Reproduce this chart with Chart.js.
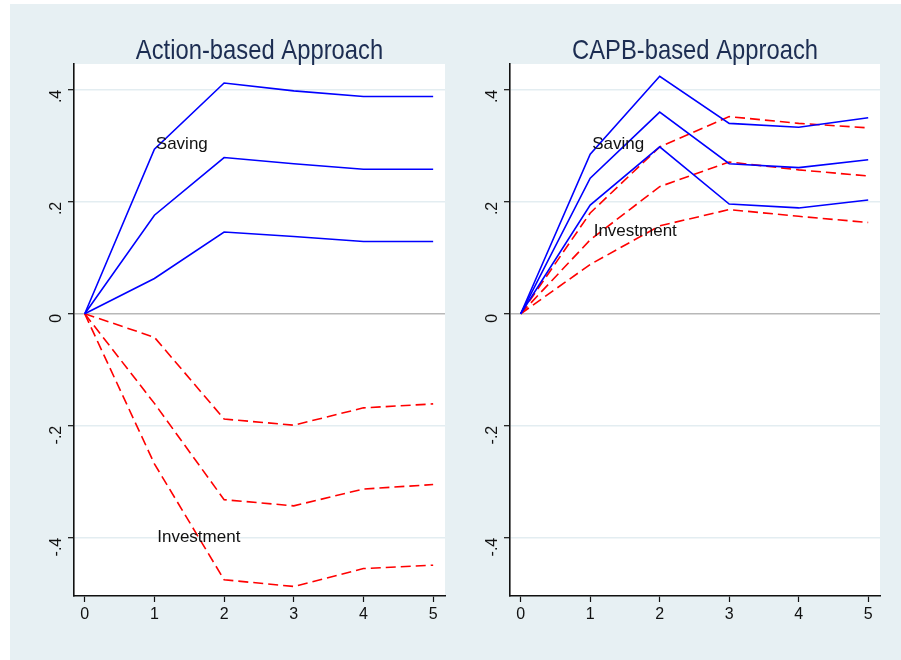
<!DOCTYPE html>
<html>
<head>
<meta charset="utf-8">
<script src="https://cdn.jsdelivr.net/npm/chart.js@4.4.1/dist/chart.umd.min.js"></script>
<style>
  html, body { margin: 0; padding: 0; background: #ffffff; }
  #frame { position: absolute; left: 10px; top: 4px; width: 891px; height: 656px; background: #e7f0f3; }
  #left { position: absolute; left: 0px; top: 0px; }
  #right { position: absolute; left: 450px; top: 0px; }
</style>
</head>
<body>
<div id="frame">
  <canvas id="left" width="450" height="656"></canvas>
  <canvas id="right" width="441" height="656"></canvas>
</div>
<script>
// Horizonte (periodos)
var periods = [0, 1, 2, 3, 4, 5];
var yTicks = [-0.4, -0.2, 0, 0.2, 0.4];
var yTickLabels = ['-.4', '-.2', '0', '.2', '.4'];

// Action-based Approach
var actSavingUpper = [0, 0.294, 0.412, 0.398, 0.388, 0.388];
var actSavingMid   = [0, 0.176, 0.279, 0.268, 0.258, 0.258];
var actSavingLower = [0, 0.063, 0.146, 0.138, 0.129, 0.129];
var actInvUpper = [0, -0.042, -0.188, -0.199, -0.168, -0.161];
var actInvMid   = [0, -0.160, -0.332, -0.343, -0.313, -0.305];
var actInvLower = [0, -0.268, -0.475, -0.487, -0.455, -0.449];

// CAPB-based Approach
var capbSavingUpper = [0, 0.285, 0.424, 0.340, 0.333, 0.350];
var capbSavingMid   = [0, 0.242, 0.360, 0.268, 0.261, 0.275];
var capbSavingLower = [0, 0.194, 0.298, 0.196, 0.189, 0.203];
var capbInvUpper = [0, 0.180, 0.298, 0.352, 0.340, 0.332];
var capbInvMid   = [0, 0.132, 0.227, 0.271, 0.257, 0.246];
var capbInvLower = [0, 0.088, 0.157, 0.186, 0.174, 0.163];

// Etiquetas de texto dentro del grafico
var actLabels = [{ text: 'Saving', x: 1.02, y: 0.302 }, { text: 'Investment', x: 1.04, y: -0.40 }];
var capbLabels = [{ text: 'Saving', x: 1.03, y: 0.302 }, { text: 'Investment', x: 1.05, y: 0.148 }];

var FONT = '"Liberation Sans", Arial, sans-serif';

function pts(arr) {
    return periods.map(function (p, i) { return { x: p, y: arr[i] }; });
}

function saving(arr) {
    return { data: pts(arr), borderColor: '#0000ff', borderWidth: 1.6, pointRadius: 0, tension: 0, fill: false };
}

function invest(arr) {
    return { data: pts(arr), borderColor: '#ff0000', borderWidth: 1.6, borderDash: [10, 5], pointRadius: 0, tension: 0, fill: false };
}

// fondo blanco, titulo (algo estrecho, como en Stata) y textos
var panelPlugin = {
    id: 'panel',
    beforeDraw: function (chart) {
        var a = chart.chartArea, c = chart.ctx;
        c.save();
        c.fillStyle = '#ffffff';
        c.fillRect(a.left, a.top, a.right - a.left, a.bottom - a.top);
        c.restore();
    },
    afterDraw: function (chart) {
        var opts = chart.options.plugins.panel;
        var a = chart.chartArea, c = chart.ctx;
        c.save();
        c.font = '28px ' + FONT;
        c.fillStyle = '#1c2d52';
        c.textAlign = 'center';
        c.textBaseline = 'alphabetic';
        c.translate((a.left + a.right) / 2, 55);
        c.scale(0.85, 1);
        c.fillText(opts.title, 0, 0);
        c.restore();
    },
    afterDatasetsDraw: function (chart) {
        var labels = chart.options.plugins.panel.labels || [];
        var c = chart.ctx, xs = chart.scales.x, ys = chart.scales.y;
        c.save();
        c.font = '17px ' + FONT;
        c.fillStyle = '#111111';
        c.textBaseline = 'middle';
        c.textAlign = 'left';
        labels.forEach(function (l) {
            c.fillText(l.text, xs.getPixelForValue(l.x), ys.getPixelForValue(l.y));
        });
        c.restore();
    }
};

function makeChart(id, title, datasets, labels, yWidth, rightPad) {
    return new Chart(document.getElementById(id), {
        type: 'line',
        data: { datasets: datasets },
        plugins: [panelPlugin],
        options: {
            responsive: false,
            animation: false,
            layout: { padding: { top: 60, right: rightPad, bottom: 0, left: 0 } },
            plugins: {
                legend: { display: false },
                tooltip: { enabled: false },
                title: { display: false },
                panel: { title: title, labels: labels }
            },
            scales: {
                x: {
                    type: 'linear',
                    min: -0.154,
                    max: 5.17,
                    afterBuildTicks: function (s) { s.ticks = periods.map(function (v) { return { value: v }; }); },
                    afterFit: function (s) { s.height = 64; },
                    grid: { drawOnChartArea: false, tickLength: 6, tickColor: '#111', tickWidth: 1.2 },
                    border: { color: '#111', width: 1.6 },
                    ticks: { color: '#111', font: { family: FONT, size: 16 }, padding: 3, maxRotation: 0 }
                },
                y: {
                    type: 'linear',
                    min: -0.504,
                    max: 0.446,
                    afterBuildTicks: function (s) { s.ticks = yTicks.map(function (v) { return { value: v }; }); },
                    afterFit: function (s) { s.width = yWidth; },
                    grid: {
                        color: function (c) { return c.tick && c.tick.value === 0 ? '#b8b8b8' : '#e3edf1'; },
                        lineWidth: 1.4,
                        tickLength: 6, tickColor: '#111', tickWidth: 1.2
                    },
                    border: { color: '#111', width: 1.6 },
                    ticks: {
                        color: '#111',
                        font: { family: FONT, size: 16 },
                        padding: 11,
                        minRotation: 90,
                        maxRotation: 90,
                        callback: function (v) {
                            var i = yTicks.indexOf(v);
                            return i >= 0 ? yTickLabels[i] : '';
                        }
                    }
                }
            }
        }
    });
}

makeChart('left', 'Action-based Approach',
    [saving(actSavingUpper), saving(actSavingMid), saving(actSavingLower),
     invest(actInvUpper), invest(actInvMid), invest(actInvLower)],
    actLabels, 64, 15);

makeChart('right', 'CAPB-based Approach',
    [saving(capbSavingUpper), saving(capbSavingMid), saving(capbSavingLower),
     invest(capbInvUpper), invest(capbInvMid), invest(capbInvLower)],
    capbLabels, 50, 21);
</script>
</body>
</html>
